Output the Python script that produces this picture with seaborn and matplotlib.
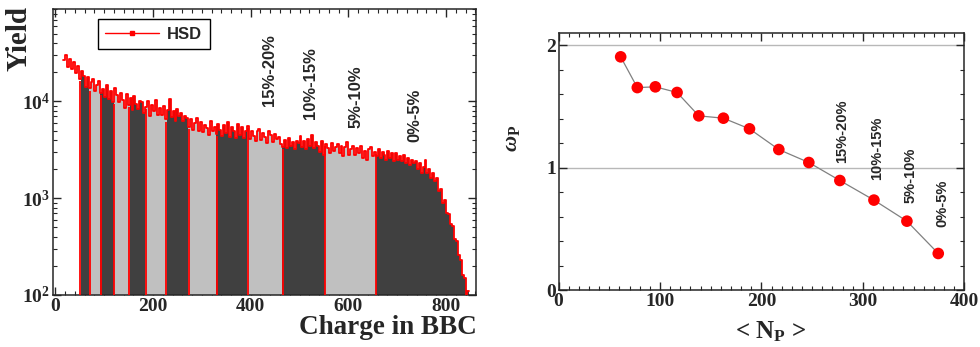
import numpy as np
import pandas as pd
import seaborn as sns
import matplotlib
matplotlib.use('Agg')
import matplotlib.pyplot as plt
from matplotlib.lines import Line2D
from matplotlib.ticker import MultipleLocator, LogLocator, NullFormatter

# ---- left panel: BBC charge histogram (4-unit bins from 16 to 848)
bin_start, bin_width = 16, 4
counts = [
    26500, 30500, 22800, 27400, 21500, 25600, 19800, 23100, 17200, 20600,
    18200, 14200, 17900, 13600, 15800, 17000, 12900, 14800, 16200, 12300,
    13500, 11000, 14600, 10600, 12800, 9800, 13900, 11700, 9900, 12200,
    10300, 8600, 11900, 9100, 10800, 8200, 11400, 9500, 8300, 10100,
    9900, 7600, 8700, 10200, 7100, 9100, 8000, 10400, 7200, 8500,
    7300, 9000, 6500, 8100, 10600, 6900, 7900, 6300, 8400, 7000,
    7600, 6200, 7100, 6700, 5400, 6500, 5100, 6000, 6800, 4900,
    6100, 4800, 5700, 5300, 4500, 6300, 5000, 5500, 4600, 5900,
    5100, 4400, 5700, 4700, 6100, 4300, 5500, 4900, 4200, 5800,
    4500, 5400, 4200, 5000, 5600, 4100, 4900, 4400, 3900, 5000,
    5200, 4000, 4700, 4300, 3700, 4900, 4500, 3800, 4600, 4100,
    4300, 3600, 3400, 4000, 3300, 4200, 3500, 3800, 3200, 3900,
    3700, 4400, 3400, 3900, 3200, 4100, 3500, 4500, 3300, 3800,
    3500, 3000, 3900, 2800, 3600, 3300, 2900, 3700, 3100, 3400,
    3600, 2900, 3500, 2700, 3400, 3800, 2800, 3200, 3500, 2800,
    3300, 2900, 3500, 2600, 3100, 2500, 3200, 3400, 2700, 3000,
    2700, 3200, 2600, 3000, 2800, 2500, 3100, 2600, 2900, 2400,
    2900, 2500, 2700, 2400, 2800, 2300, 2600, 2200, 2500, 2300,
    2400, 2000, 2300, 1800, 2100, 2500, 1800, 2000, 1600, 1800,
    1500, 1600, 1200, 1250, 900, 950, 700, 680, 540, 520,
    380, 360, 260, 230, 160, 150, 100, 110,
]
# centrality class boundaries in BBC charge
cuts = [51, 70, 93, 120, 151, 186, 227, 274, 330, 394, 466, 553, 656, 850]
cent_labels = ['15%-20%', '10%-15%', '5%-10%', '0%-5%']
cent_x_left = [438, 522, 616, 736]
cent_y_left = [8870, 6630, 5350, 3810]

# ---- right panel: omega_P vs <N_P>
npart = [61.2, 77.6, 95.4, 116.8, 138.2, 162.5, 188.2, 217.1, 246.7, 277.3, 310.9, 343.4, 374.3]
omega = [1.905, 1.654, 1.660, 1.614, 1.423, 1.404, 1.317, 1.148, 1.042, 0.895, 0.735, 0.563, 0.299]
cent_x_right = [279.8, 313.8, 347.3, 378.0]
cent_y_right = [1.034, 0.898, 0.708, 0.517]

sns.set_style('ticks')
plt.rcParams['font.family'] = ['Liberation Serif', 'DejaVu Serif']
plt.rcParams['font.weight'] = 'bold'
plt.rcParams['axes.labelweight'] = 'bold'
plt.rcParams['mathtext.fontset'] = 'custom'
plt.rcParams['mathtext.rm'] = 'Liberation Serif:bold'
plt.rcParams['mathtext.it'] = 'Liberation Serif:italic:bold'
plt.rcParams['mathtext.bf'] = 'Liberation Serif:bold'
plt.rcParams['axes.linewidth'] = 1.1

edges = (bin_start + bin_width * np.arange(len(counts) + 1)).tolist()
centers = [e + bin_width / 2 for e in edges[:-1]]
df = pd.DataFrame({'charge': centers, 'n': counts})
band = np.digitize(df['charge'], cuts) - 1
df['shade'] = np.where(band % 2 == 0, 'dark', 'light')
filled = df[(df['charge'] > cuts[0])]

fig = plt.figure(figsize=(9.8, 3.47), dpi=100)
ax1 = fig.add_axes([0.054, 0.150, 0.432, 0.824])
ax2 = fig.add_axes([0.570, 0.164, 0.414, 0.741])

ax1.set_yscale('log')
sns.histplot(data=filled, x='charge', weights='n', bins=edges, hue='shade',
             palette={'dark': '#404040', 'light': '#c0c0c0'}, element='bars',
             fill=True, alpha=1, linewidth=0, antialiased=False, legend=False, ax=ax1)
# red boundaries between centrality classes
idx = np.clip(np.searchsorted(edges, cuts[:-1]) - 1, 0, len(counts) - 1)
ax1.vlines(cuts[:-1], 100, np.array(counts)[idx] * 0.95, color='red', lw=1.3, zorder=3)
sns.histplot(data=df, x='charge', weights='n', bins=edges, element='step', fill=False,
             color='red', linewidth=1.3, ax=ax1, zorder=4)
ax1.set_xlim(-5, 862)
ax1.set_ylim(100, 9e4)
ax1.xaxis.set_major_locator(MultipleLocator(200))
ax1.xaxis.set_minor_locator(MultipleLocator(20))
ax1.yaxis.set_major_locator(LogLocator(base=10, numticks=10))
ax1.yaxis.set_minor_locator(LogLocator(base=10, subs=np.arange(2, 10), numticks=20))
ax1.yaxis.set_minor_formatter(NullFormatter())
ax1.tick_params(which='both', direction='in', top=True, right=True, labelsize=14, pad=2)
ax1.tick_params(which='major', length=6, width=1)
ax1.tick_params(which='minor', length=3, width=0.8)
ax1.set_xlabel('Charge in BBC', fontsize=19.5, loc='right', labelpad=0)
ax1.set_ylabel('Yield', fontsize=21, loc='top', va='center')
ax1.yaxis.set_label_coords(-0.080, 1.01)
for lab, x, y in zip(cent_labels, cent_x_left, cent_y_left):
    ax1.text(x, y, lab, rotation=90, ha='center', va='bottom', fontsize=12,
             family='Liberation Sans', weight='bold')
hsd = Line2D([], [], color='red', lw=1, marker='s', markersize=3)
ax1.legend(handles=[hsd], labels=['HSD'], loc='upper left', bbox_to_anchor=(0.106, 0.965),
           borderaxespad=0, fancybox=False, edgecolor='black', framealpha=1,
           handlelength=3.2, handletextpad=0.5, borderpad=0.45,
           prop={'family': 'Liberation Sans', 'weight': 'bold', 'size': 12})
ax1.get_legend().get_frame().set_linewidth(1)

# right panel
ax2.axhline(1, color='#b8b8b8', lw=1, zorder=0)
ax2.axhline(2, color='#b8b8b8', lw=1, zorder=0)
sns.lineplot(x=npart, y=omega, color='#808080', lw=0.9, ax=ax2, zorder=2)
sns.scatterplot(x=npart, y=omega, color='red', s=70, edgecolor='none', ax=ax2, zorder=3)
ax2.set_xlim(0, 400)
ax2.set_ylim(0, 2.1)
ax2.xaxis.set_major_locator(MultipleLocator(100))
ax2.xaxis.set_minor_locator(MultipleLocator(10))
ax2.yaxis.set_major_locator(MultipleLocator(1))
ax2.yaxis.set_minor_locator(MultipleLocator(0.2))
ax2.tick_params(which='both', direction='in', top=True, right=True, labelsize=14, pad=2)
ax2.tick_params(which='major', length=6, width=1)
ax2.tick_params(which='minor', length=3, width=0.8)
ax2.set_xlabel(r'< N$_\mathregular{P}$ >', fontsize=18)
ax2.xaxis.set_label_coords(0.523, -0.115)
ax2.set_ylabel(r'$\omega_\mathregular{P}$', fontsize=16)
ax2.yaxis.set_label_coords(-0.09, 0.59)
for lab, x, y in zip(cent_labels, cent_x_right, cent_y_right):
    ax2.text(x, y, lab, rotation=90, ha='center', va='bottom', fontsize=10.5,
             family='Liberation Sans', weight='bold')

fig.savefig('out.png', dpi=100)
